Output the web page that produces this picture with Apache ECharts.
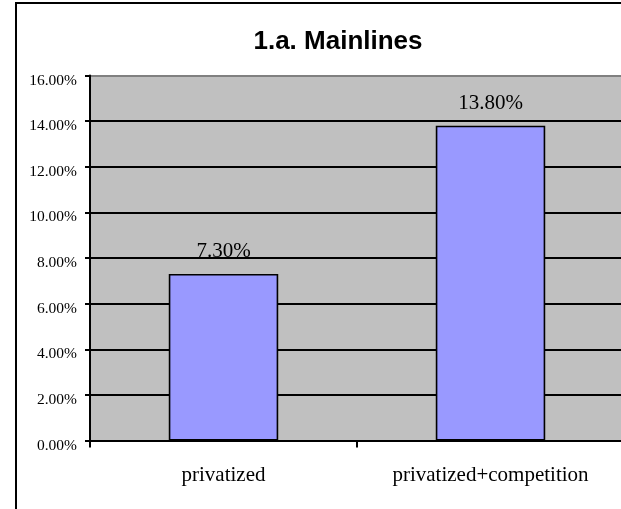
<!DOCTYPE html>
<html>
<head>
<meta charset="utf-8">
<script src="https://cdn.jsdelivr.net/npm/echarts@6/dist/echarts.min.js"></script>
<style>
  html, body { margin: 0; padding: 0; background: #fff; }
  #chart { width: 621px; height: 509px; }
</style>
</head>
<body>
<div id="chart"></div>
<script>
const titleText = '1.a. Mainlines';
const categories = ['privatized', 'privatized+competition'];
const values = [7.30, 13.80];
const yTicks = { min: 0, max: 16, interval: 2 };

const chart = echarts.init(document.getElementById('chart'), null, { renderer: 'canvas' });
const serif = '"Liberation Serif", "Times New Roman", serif';
const sans = '"Liberation Sans", Arial, sans-serif';

const option = {
  backgroundColor: '#ffffff',
  animation: false,
  title: {
    text: titleText,
    left: 333,
    top: 24,
    textAlign: 'center',
    textStyle: { fontFamily: sans, fontWeight: 'bold', fontSize: 26, color: '#000' }
  },
  graphic: [{
    type: 'polyline',
    shape: { points: [[16, 509], [16, 3], [621, 3]] },
    style: { fill: 'none', stroke: '#000', lineWidth: 2 },
    z: 100
  }],
  grid: {
    left: 90, top: 75.5, width: 534, bottom: 68.5,
    outerBoundsMode: 'none',
    containLabel: false,
    show: true, backgroundColor: '#C0C0C0', borderWidth: 0
  },
  xAxis: {
    type: 'category',
    data: categories,
    boundaryGap: true,
    axisLine: { show: true, lineStyle: { color: '#000', width: 2 } },
    axisTick: { show: true, length: 7, lineStyle: { color: '#000', width: 2 } },
    axisLabel: { color: '#000', fontFamily: serif, fontSize: 21, margin: 24 },
    splitLine: { show: false }
  },
  yAxis: {
    type: 'value',
    min: yTicks.min, max: yTicks.max, interval: yTicks.interval,
    axisLine: { show: true, lineStyle: { color: '#000', width: 2 } },
    axisTick: { show: true, length: 5, lineStyle: { color: '#000', width: 2 } },
    axisLabel: {
      color: '#000', fontFamily: serif, fontSize: 15.5, margin: 13,
      verticalAlign: 'top', lineHeight: 10,
      formatter: v => v.toFixed(2) + '%'
    },
    splitLine: {
      show: true,
      lineStyle: { color: ['#000', '#000', '#000', '#000', '#000', '#000', '#000', '#000', '#808080'], width: 2 }
    }
  },
  series: [{
    type: 'bar',
    data: values,
    barCategoryGap: '59%',
    itemStyle: { color: '#9999FF', borderColor: '#000', borderWidth: 1.6 },
    label: {
      show: true, position: 'top', distance: 12,
      color: '#000', fontFamily: serif, fontSize: 21,
      formatter: p => p.value.toFixed(2) + '%'
    }
  }]
};
chart.setOption(option);
</script>
</body>
</html>
